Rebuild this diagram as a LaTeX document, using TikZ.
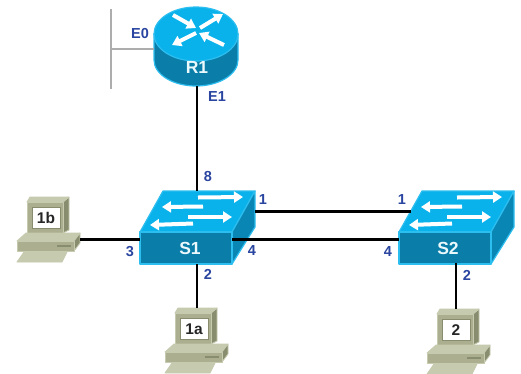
\documentclass[tikz,border=0pt]{standalone}
\usepackage{fontspec}
\setmainfont{Liberation Sans}
\usetikzlibrary{arrows.meta}
\definecolor{ciscotop}{HTML}{0AB2EC}
\definecolor{ciscoface}{HTML}{0A7DA8}
\definecolor{ciscoside}{HTML}{0A86B4}
\definecolor{ciscoedge}{HTML}{2DBEF0}
\definecolor{pcface}{HTML}{ABAF8F}
\definecolor{pclight}{HTML}{C6CAAE}
\definecolor{pcdark}{HTML}{888D70}
\definecolor{portblue}{HTML}{2A45A0}
\tikzset{
  x=1pt,y=-1pt,
  wire/.style={line width=2.8pt,black},
  graywire/.style={line width=2.2pt,black!32},
  portlabel/.style={font=\bfseries\fontsize{14.5}{15}\selectfont,text=portblue,inner sep=0pt},
  devicelabel/.style={font=\bfseries\fontsize{17.5}{18}\selectfont,text=white!92!ciscotop,inner sep=0pt},
  pclabel/.style={font=\bfseries\fontsize{15.5}{16}\selectfont,text=black!85,inner sep=0pt},
  flow/.style={white,line width=4pt,-{Triangle[length=9pt,width=11pt]}},
  swpaint/.style={draw=ciscoedge,line width=1.2pt,line join=round},
  pcpaint/.style={draw=pclight,line width=.8pt,line join=round},
  switchicon/.pic={
    \path[swpaint,fill=ciscotop] (0,0) -- (23,-41) -- (115,-41) -- (92,0) -- cycle;
    \path[swpaint,fill=ciscoside] (92,0) -- (115,-41) -- (115,-5) -- (92,32) -- cycle;
    \path[swpaint,fill=ciscoface] (0,0) rectangle (92,32);
    \draw[flow] (58,-34.5) -- (103,-35);
    \draw[flow] (63,-25.5) -- (22,-25);
    \draw[flow] (48,-15) -- (92,-15);
    \draw[flow] (53,-8.5) -- (10,-7);
  },
  pcicon/.pic={
    \path[pcpaint,fill=pcdark] (63,5) -- (69,0) -- (69,33) -- (63,36) -- cycle;
    \path[pcpaint,fill=pclight] (27,5) -- (30,0) -- (69,0) -- (63,5) -- cycle;
    \path[pcpaint,fill=pcface] (27,5) rectangle (63,36);
    \path[fill=white,draw=pcdark,line width=.5pt] (32,10) rectangle (60,31);
    \path[pcpaint,fill=pclight] (24,55) -- (17,65) -- (62,65) -- (67,55) -- cycle;
    \path[pcpaint,fill=pclight] (17,44) -- (26,36) -- (80,36) -- (74,44) -- cycle;
    \path[pcpaint,fill=pcdark] (74,44) -- (80,36) -- (80,46) -- (74,54) -- cycle;
    \path[pcpaint,fill=pcface] (17,44) rectangle (74,54);
    \fill[pcdark] (57,47.5) rectangle (71,49.5);
  }
}
\begin{document}
\begin{tikzpicture}
\useasboundingbox[fill=white] (0,0) rectangle (521,373);

% Router
\path[draw=ciscoedge,line width=1.2pt,fill=ciscoface] (154,34) -- (154,60) arc[start angle=180,end angle=0,x radius=42,y radius=26] -- (238,34) -- cycle;
\path[draw=ciscoedge,line width=1.2pt,fill=ciscotop] (196,34) ellipse[x radius=42,y radius=27];
\draw[flow] (173,15) -- (196,28);
\draw[flow] (200,28) -- (223,14);
\draw[flow] (196,33) -- (172,45);
\draw[flow] (224,45) -- (199,33);
\node[devicelabel] (r1) at (197,67) {R1};
\coordinate (r1w) at (154,49);
\coordinate (r1s) at (197,86);

% Switches
\pic at (140,232) {switchicon};
\pic at (399,232) {switchicon};
\node[devicelabel] (s1) at (190,248) {S1};
\node[devicelabel] (s2) at (448,248) {S2};
\coordinate (s1n) at (197,191);
\coordinate (s1ne) at (255,211.5);
\coordinate (s1e) at (232,239.5);
\coordinate (s1w) at (140,239.5);
\coordinate (s1s) at (197,264);
\coordinate (s2nw) at (411,211.5);
\coordinate (s2w) at (399,239.5);
\coordinate (s2s) at (456,263);

% Hosts
\pic at (0,197) {pcicon};
\pic at (148,308) {pcicon};
\pic at (410,309) {pcicon};
\node[pclabel] (h1b) at (46,217.5) {1b};
\node[pclabel] (h1a) at (194,329) {1a};
\node[pclabel] (h2) at (456,330) {2};
\coordinate (h1be) at (80,239.5);
\coordinate (h1an) at (197,308);
\coordinate (h2n) at (456,309);

% Ethernet segment
\coordinate (seg1) at (111,9);
\coordinate (seg2) at (111,89);
\coordinate (segm) at (111,49);
\draw[graywire] (seg1) -- (seg2);
\draw[graywire] (segm) -- (r1w);

% Links
\draw[wire] (r1s) -- (s1n);
\draw[wire] (s1ne) -- (s2nw);
\draw[wire] (s1e) -- (s2w);
\draw[wire] (h1be) -- (s1w);
\draw[wire] (s1s) -- (h1an);
\draw[wire] (s2s) -- (h2n);

% Port labels
\node[portlabel] (pE0) at (140,34) {E0};
\node[portlabel] (pE1) at (217,97) {E1};
\node[portlabel] (p8) at (208,177) {8};
\node[portlabel] (p1a) at (263,200) {1};
\node[portlabel] (p1b) at (402,200) {1};
\node[portlabel] (p3) at (130,252) {3};
\node[portlabel] (p4a) at (252,251) {4};
\node[portlabel] (p4b) at (388,252) {4};
\node[portlabel] (p2a) at (208,274) {2};
\node[portlabel] (p2b) at (467,275) {2};
\end{tikzpicture}
\end{document}
